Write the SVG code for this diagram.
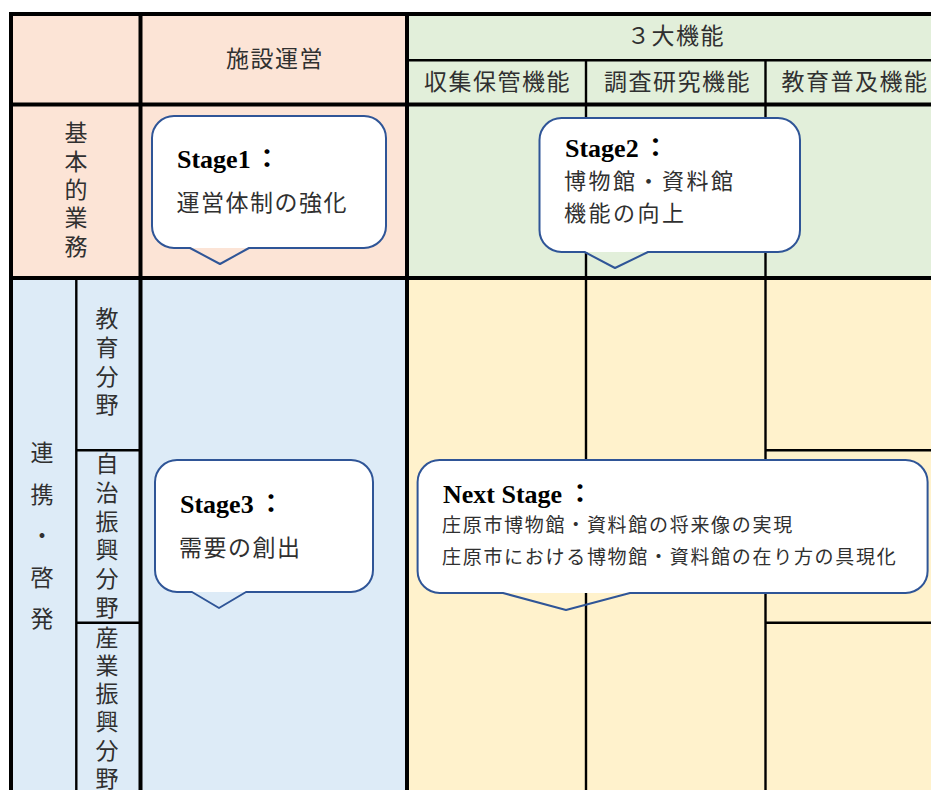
<svg xmlns="http://www.w3.org/2000/svg" width="931" height="790" viewBox="0 0 931 790">
<style>
.jp{font-family:"Noto Sans CJK JP","Noto Sans",sans-serif;fill:#303030;font-size:23px;letter-spacing:1.5px}
.vt{font-family:"Noto Sans CJK JP","Noto Sans",sans-serif;fill:#303030;font-size:23px;writing-mode:vertical-rl}
.sm{font-size:19px;letter-spacing:1.7px}
.md{font-size:22px;letter-spacing:2.5px}
.st{font-family:"Liberation Serif","Noto Sans CJK JP",serif;font-weight:bold;font-size:26px;fill:#000}
.col{font-family:"Noto Sans CJK JP",sans-serif;font-weight:bold}
.thick{stroke:#000;stroke-width:4;fill:none}
.thin{stroke:#000;stroke-width:2.4;fill:none}
.bub{fill:#fff;stroke:none}
.bubline{fill:none;stroke:#2F5597;stroke-width:2;stroke-linejoin:round}
</style>
<rect width="931" height="790" fill="#fff"/>
<g id="table">
  <rect x="11" y="14" width="396" height="264" fill="#FCE4D6"/>
  <rect x="407" y="14" width="524" height="264" fill="#E2EFDA"/>
  <rect x="11" y="278" width="396" height="512" fill="#DDEBF7"/>
  <rect x="407" y="278" width="524" height="512" fill="#FFF2CC"/>
  <g id="grid-thin">
    <line class="thin" x1="407" y1="60.3" x2="931" y2="60.3"/>
    <line class="thin" x1="586" y1="60" x2="586" y2="790"/>
    <line class="thin" x1="765.5" y1="60" x2="765.5" y2="790"/>
    <line class="thin" x1="76.3" y1="278" x2="76.3" y2="790"/>
    <line class="thin" x1="76" y1="450.3" x2="140" y2="450.3"/>
    <line class="thin" x1="76" y1="622.8" x2="140" y2="622.8"/>
    <line class="thin" x1="765" y1="450.3" x2="931" y2="450.3"/>
    <line class="thin" x1="765" y1="622.8" x2="931" y2="622.8"/>
  </g>
  <g id="grid-thick">
    <line class="thick" x1="9" y1="14" x2="931" y2="14" stroke-width="3"/>
    <line class="thick" x1="11" y1="13" x2="11" y2="790"/>
    <line class="thick" x1="140.5" y1="13" x2="140.5" y2="790"/>
    <line class="thick" x1="407" y1="13" x2="407" y2="790"/>
    <line class="thick" x1="9" y1="104.5" x2="931" y2="104.5"/>
    <line class="thick" x1="9" y1="278" x2="931" y2="278"/>
  </g>
</g>
<g id="headers">
  <text id="h-shisetsu" class="jp" x="226" y="66.5">施設運営</text>
  <text id="h-3kino" class="jp" x="627" y="43.5">３大機能</text>
  <text id="h-shushu" class="jp" x="424" y="89.5">収集保管機能</text>
  <text id="h-chosa" class="jp" x="604" y="89.5">調査研究機能</text>
  <text id="h-kyoiku" class="jp" x="781.5" y="89.5">教育普及機能</text>
</g>
<g id="row-labels">
  <text id="r-kihon" class="vt" x="76" y="121" letter-spacing="5.4">基本的業<tspan letter-spacing="0">務</tspan></text>
  <text id="r-renkei" class="vt" x="42" y="441" letter-spacing="18.5">連携・啓<tspan letter-spacing="0">発</tspan></text>
  <text id="r-kyoiku" class="vt" x="107" y="307" letter-spacing="5.8">教育分<tspan letter-spacing="0">野</tspan></text>
  <text id="r-jichi" class="vt" x="107" y="452" letter-spacing="5.7">自治振興分<tspan letter-spacing="0">野</tspan></text>
  <text id="r-sangyo" class="vt" x="107" y="625.5" letter-spacing="5.2">産業振興分<tspan letter-spacing="0">野</tspan></text>
</g>
<g id="stage1">
  <rect class="bub" x="152" y="116" width="234" height="132" rx="22"/>
  <path class="bubline" d="M174,116 H364 A22,22 0 0 1 386,138 V226 A22,22 0 0 1 364,248 H249 L220,264 L190,248 H174 A22,22 0 0 1 152,226 V138 A22,22 0 0 1 174,116 Z"/>
  <text class="st" x="177" y="168">Stage1<tspan class="col" x="254">：</tspan></text>
  <text class="jp" x="176.5" y="210.5">運営体制の強化</text>
</g>
<g id="stage2">
  <rect class="bub" x="539.5" y="118" width="260.5" height="134" rx="22"/>
  <path class="bubline" d="M561.5,118 H778 A22,22 0 0 1 800,140 V230 A22,22 0 0 1 778,252 H648 L615,268 L584.6,252 H561.5 A22,22 0 0 1 539.5,230 V140 A22,22 0 0 1 561.5,118 Z"/>
  <text class="st" x="565" y="156.7">Stage2<tspan class="col" x="642.5">：</tspan></text>
  <text class="jp md" x="564" y="188.5">博物館・資料館</text>
  <text class="jp md" x="564" y="220.5">機能の向上</text>
</g>
<g id="stage3">
  <rect class="bub" x="155" y="460" width="218" height="132" rx="22"/>
  <path class="bubline" d="M177,460 H351 A22,22 0 0 1 373,482 V570 A22,22 0 0 1 351,592 H246 L219,608 L192,592 H177 A22,22 0 0 1 155,570 V482 A22,22 0 0 1 177,460 Z"/>
  <text class="st" x="180" y="513.3">Stage3<tspan class="col" x="258">：</tspan></text>
  <text class="jp" x="179" y="555.5">需要の創出</text>
</g>
<g id="next-stage">
  <rect class="bub" x="417.6" y="460" width="510" height="133" rx="22"/>
  <path class="bubline" d="M439.6,460 H905.6 A22,22 0 0 1 927.6,482 V571 A22,22 0 0 1 905.6,593 H630 L566,610 L503,593 H439.6 A22,22 0 0 1 417.6,571 V482 A22,22 0 0 1 439.6,460 Z"/>
  <text class="st" x="443" y="502.7">Next Stage<tspan class="col" x="567">：</tspan></text>
  <text class="jp sm" x="442" y="532">庄原市博物館・資料館の将来像の実現</text>
  <text class="jp sm" x="442" y="563.5">庄原市における博物館・資料館の在り方の具現化</text>
</g>
</svg>
